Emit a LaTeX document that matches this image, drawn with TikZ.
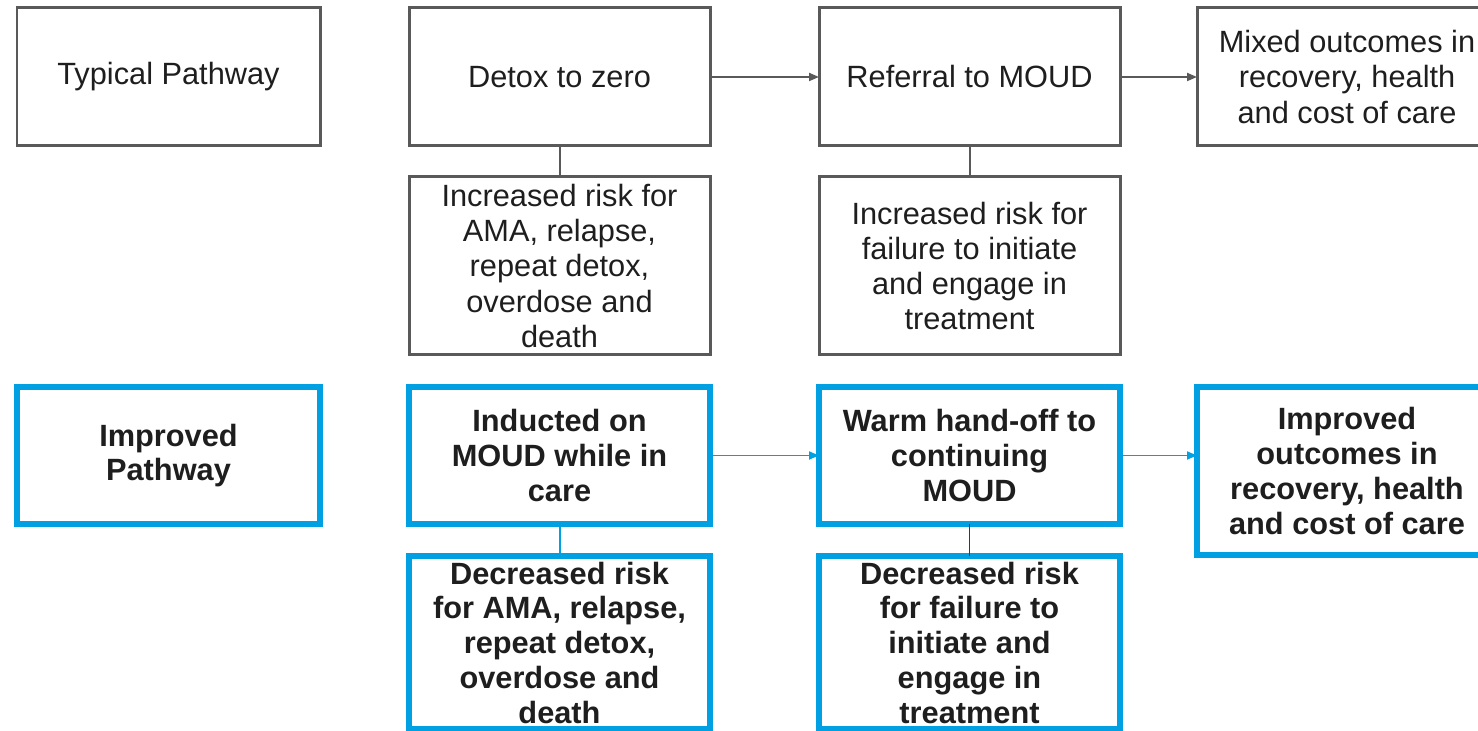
\documentclass[tikz,border=0pt]{standalone}
\usepackage{xcolor}
\usepackage{fontspec}
\setmainfont{Liberation Sans}
\usepackage{tikz}
\usetikzlibrary{positioning,arrows.meta}
\definecolor{pathgray}{RGB}{89,89,89}
\definecolor{pathblue}{RGB}{0,160,227}
\definecolor{pathnavy}{RGB}{40,50,140}
\definecolor{pathtext}{RGB}{30,30,30}

\begin{document}
\begin{tikzpicture}[
  oldbox/.style={rectangle, draw=pathgray, line width=0.06cm, outer sep=0pt, align=center, text=pathtext, minimum width=6.02cm, minimum height=2.76cm, font=\fontsize{17.5}{20}\selectfont},
  newbox/.style={oldbox, draw=pathblue, line width=0.12cm, font=\fontsize{17.5}{19.8}\selectfont\bfseries},
  oldarrow/.style={draw=pathgray, line width=0.04cm, -{Triangle[length=0.2cm,width=0.16cm]}},
  newarrow/.style={draw=pathblue, line width=0.035cm, -{Triangle[length=0.2cm,width=0.16cm]}}
]
\useasboundingbox (0,0) rectangle (29.56,14.62);
\clip (0,0) rectangle (29.56,14.62);

% typical pathway
\node[oldbox, minimum width=6.06cm] (typ) at (3.37,13.08) {Typical Pathway};
\node[oldbox, right=1.78cm of typ] (detox) {Detox to zero};
\node[oldbox, right=2.18cm of detox] (referral) {Referral to MOUD};
\node[oldbox, minimum width=6cm, right=1.54cm of referral] (mixed) {Mixed outcomes in\\recovery, health\\and cost of care};
\node[oldbox, minimum height=3.56cm, below=0.62cm of detox] (incrA) {Increased risk for\\AMA, relapse,\\repeat detox,\\overdose and\\death};
\node[oldbox, minimum height=3.56cm, below=0.62cm of referral] (incrB) {Increased risk for\\failure to initiate\\and engage in\\treatment};

\draw[oldarrow] (detox) -- (referral);
\draw[oldarrow] (referral) -- (mixed);
\draw[pathgray, line width=0.04cm] (detox) -- (incrA);
\draw[pathgray, line width=0.04cm] (referral) -- (incrB);

% improved pathway
\node[newbox, minimum width=6.06cm, minimum height=2.74cm, below=4.82cm of typ] (impr) {Improved\\Pathway};
\node[newbox, minimum height=2.74cm, right=1.78cm of impr] (induct) {Inducted on\\MOUD while in\\care};
\node[newbox, minimum height=2.74cm, right=2.18cm of induct] (warm) {Warm hand-off to\\continuing\\MOUD};
\node[newbox, minimum width=6cm, minimum height=3.36cm, right=1.54cm of warm.north east, anchor=north west] (outc) {Improved\\outcomes in\\recovery, health\\and cost of care};
\node[newbox, minimum height=3.38cm, below=0.64cm of induct] (decrA) {Decreased risk\\for AMA, relapse,\\repeat detox,\\overdose and\\death};
\node[newbox, minimum height=3.38cm, below=0.64cm of warm] (decrB) {Decreased risk\\for failure to\\initiate and\\engage in\\treatment};

\draw[newarrow] (induct) -- (warm);
\draw[newarrow] (warm.east) -- (warm.east -| outc.west);
\draw[pathblue, line width=0.04cm] (induct) -- (decrA);
\draw[pathnavy, line width=0.03cm] (warm) -- (decrB);
\end{tikzpicture}
\end{document}
